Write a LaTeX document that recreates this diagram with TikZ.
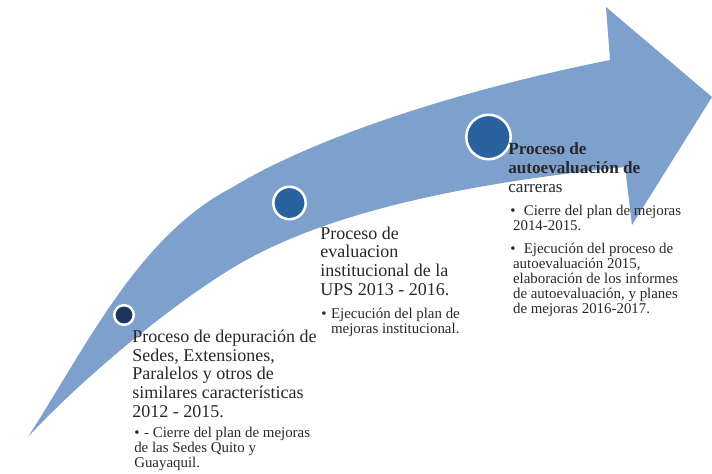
\documentclass[tikz,border=0pt]{standalone}
\usepackage{fontspec}
\setmainfont{Liberation Serif}
\definecolor{arrowblue}{RGB}{125,160,205}
\definecolor{dotnavy}{RGB}{30,52,96}
\definecolor{dotblue}{RGB}{42,98,160}
\definecolor{ink}{RGB}{40,40,40}
\newcommand{\blt}{\makebox[7pt][l]{\textbullet}}

\begin{document}
\begin{tikzpicture}[x=0.025cm,y=-0.025cm,
  title/.style={anchor=base west,align=left,inner sep=0pt,text=ink,font=\fontsize{12.8}{13.2}\selectfont},
  items/.style={anchor=base west,align=left,inner sep=0pt,text=ink,font=\fontsize{10.6}{10.6}\selectfont},
  dot/.style={circle,draw=white,line width=1.8pt,inner sep=0pt}]
  \useasboundingbox (0,0) rectangle (712,474);
  % curved arrow, coordinates are pixels of the slide
  \fill[arrowblue] (28,437) .. controls (90,340) and (140,235) .. (233,187)
    .. controls (310,140) and (450,92) .. (610,60) -- (606,7) -- (712,97)
    -- (632,225) -- (625,167) .. controls (450,185) and (330,215) .. (250,258)
    .. controls (190,290) and (90,370) .. (28,437) -- cycle;
  \node[dot,fill=dotnavy,minimum size=0.49cm] (dot1) at (124,315) {};
  \node[dot,fill=dotblue,minimum size=0.81cm] (dot2) at (289.5,203) {};
  \node[dot,fill=dotblue,minimum size=1.11cm] (dot3) at (488.5,137) {};
  % texts of the three stages (placed by their last baseline)
  \node[title] (title1) at (132,417) {Proceso de depuración de\\Sedes, Extensiones,\\Paralelos y otros de\\similares características\\2012 - 2015.};
  \node[items] (items1) at (134,467) {\blt- Cierre del plan de mejoras\\de las Sedes Quito y\\Guayaquil.};
  \node[title] (title2) at (320,295) {Proceso de\\evaluacion\\institucional de la\\UPS 2013 - 2016.};
  \node[items] (items2) at (321,333) {\blt Ejecución del plan de\\\hspace*{7pt}mejoras institucional.};
  \node[title,font=\fontsize{12.2}{13.2}\selectfont] (title3) at (508,192) {{\bfseries Proceso de}\\{\bfseries autoevaluación de}\\carreras};
  \node[items] (items3) at (510,313) {\blt\ Cierre del plan de mejoras\\\hspace*{2pt}2014-2015.\\[5.5pt]\blt\ Ejecución del proceso de\\\hspace*{2pt}autoevaluación 2015,\\\hspace*{2pt}elaboración de los informes\\\hspace*{2pt}de autoevaluación, y planes\\\hspace*{2pt}de mejoras 2016-2017.};
\end{tikzpicture}
\end{document}
